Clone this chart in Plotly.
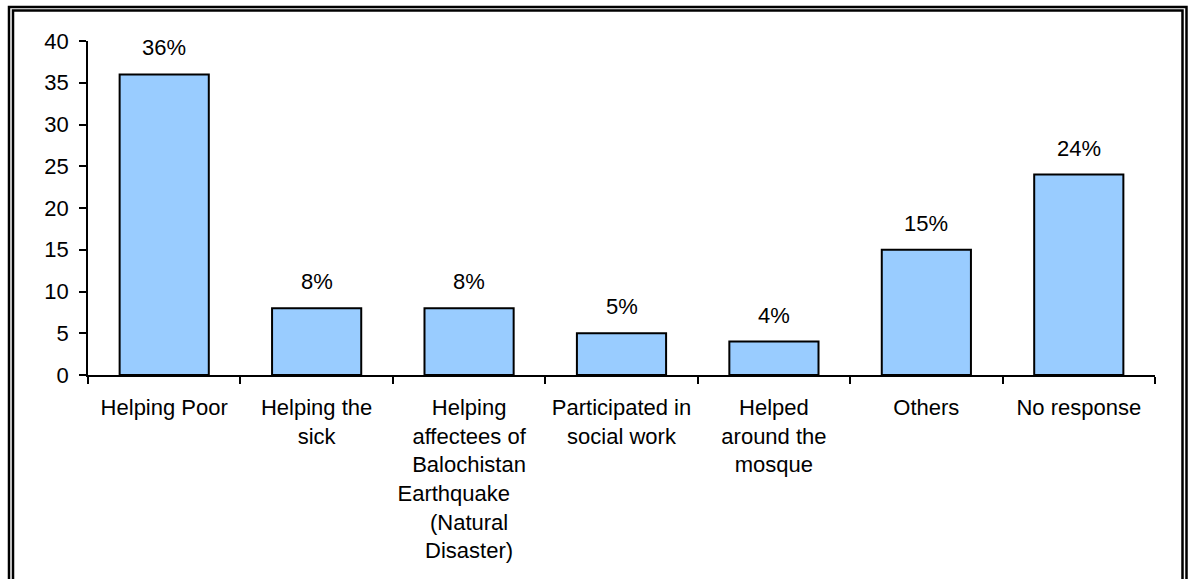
import plotly.graph_objects as go

categories = [
    "Helping Poor",
    "Helping the<br>sick",
    "Helping<br>affectees of<br>Balochistan<br>Earthquake\u00a0\u00a0\u00a0\u00a0\u00a0<br>(Natural<br>Disaster)",
    "Participated in<br>social work",
    "Helped<br>around the<br>mosque",
    "Others",
    "No response",
]
values = [36, 8, 8, 5, 4, 15, 24]
labels = ["36%", "8%", "8%", "5%", "4%", "15%", "24%"]

FONT = dict(family="Liberation Sans, Arial, sans-serif", size=22, color="black")

fig = go.Figure(go.Bar(
    x=categories,
    y=values,
    marker_color="#99CCFF",
    marker_line_color="black",
    marker_line_width=2,
    width=0.585,
))

for c, v, t in zip(categories, values, labels):
    fig.add_annotation(x=c, y=v, text=t, showarrow=False, yanchor="bottom",
                       yshift=12, font=FONT)

# double frame round the whole chart (pixels from the plot area's bottom-left)
L, B = 88, 375
for x0, y0, x1 in [(9, 7, 1186.5), (13, 10.5, 1182.5)]:
    fig.add_shape(type="rect", xref="paper", yref="paper",
                  xsizemode="pixel", ysizemode="pixel", xanchor=0, yanchor=0,
                  x0=x0 - L, x1=x1 - L, y0=B - y0, y1=B - 620,
                  line=dict(color="black", width=2.5), fillcolor="rgba(0,0,0,0)")

fig.update_layout(
    width=1188, height=579,
    margin=dict(l=88, r=33, t=41, b=204),
    plot_bgcolor="white", paper_bgcolor="white",
    font=FONT,
    showlegend=False,
    bargap=0.415,
)
fig.update_xaxes(
    showline=True, linecolor="black", linewidth=1.5,
    ticks="outside", tickson="boundaries", ticklen=7, tickwidth=1.5, tickcolor="black",
    showgrid=False, tickangle=0, ticklabelstandoff=12,
)
fig.update_yaxes(
    range=[0, 40], dtick=5, showline=True, linecolor="black", linewidth=1.5,
    ticks="outside", ticklen=7, tickwidth=1.5, tickcolor="black",
    showgrid=False, zeroline=False, ticklabelstandoff=6,
)

# drop the page margin so the 1188x579 figure fills the window exactly
fig.write_html("out.html", config={"displayModeBar": False}, post_script=(
    "document.body.style.margin='0';"
    "document.documentElement.style.overflow='hidden';"
))
